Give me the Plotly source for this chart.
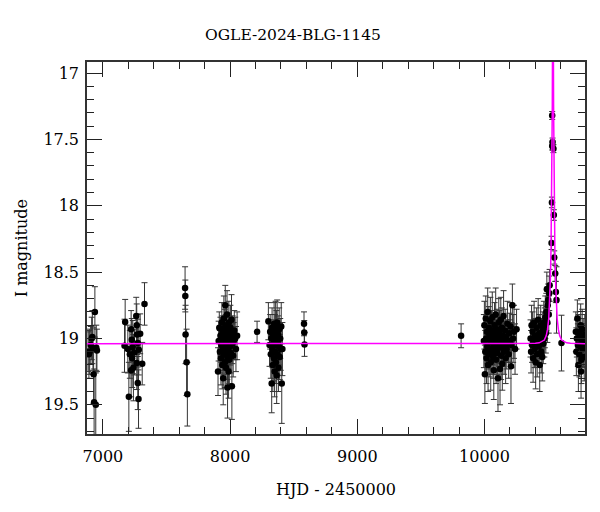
import plotly.graph_objects as go

# ---------------- data ----------------
# Observations: HJD-2450000, I magnitude, error  (grouped by season)
s1_t = [6883, 6890, 6896, 6905, 6912, 6917, 6922, 6927, 6931, 6937, 6944, 6948, 6953]
s1_m = [19.10, 19.12, 19.10, 19.05, 19.00, 18.99, 19.08, 19.27, 19.48, 18.80, 19.50, 19.07, 19.09]
s1_e = [0.15, 0.18, 0.17, 0.14, 0.16, 0.20, 0.16, 0.22, 0.25, 0.19, 0.24, 0.17, 0.16]

s2_t = [7170, 7175, 7196, 7204, 7212, 7222, 7222, 7227, 7230, 7235, 7240, 7248, 7262, 7266,
        7266, 7269, 7274, 7274, 7280, 7282, 7293, 7309, 7327]
s2_m = [19.055, 18.876, 19.08, 19.44, 19.12, 18.93, 19.24, 19.01, 19.15, 19.065, 19.22, 19.105,
        18.83, 18.90, 19.185, 18.97, 19.035, 19.336, 19.457, 19.085, 18.965, 19.19, 18.74]
s2_e = [0.20, 0.17, 0.18, 0.26, 0.18, 0.14, 0.20, 0.16, 0.22, 0.20, 0.25, 0.17,
        0.14, 0.16, 0.20, 0.15, 0.18, 0.20, 0.22, 0.19, 0.15, 0.16, 0.16]

s3_t = [7646, 7648, 7650, 7658, 7664]
s3_m = [18.62, 18.68, 18.97, 19.18, 19.42]
s3_e = [0.16, 0.12, 0.22, 0.25, 0.24]

s4_t = [7905, 7910, 7915, 7920, 7924, 7928, 7931, 7935, 7938, 7940, 7943, 7946, 7948, 7951,
        7953, 7956, 7958, 7960, 7962, 7964, 7966, 7968, 7970, 7972, 7974, 7976, 7978, 7980,
        7982, 7984, 7986, 7988, 7990, 7992, 7994, 7996, 7999, 8002, 8005, 8008, 8011, 8014,
        8017, 8020, 8024, 8028, 8033, 8040, 8046, 8055]
s4_m = [19.25, 19.02, 18.92, 19.10, 18.98, 19.15, 19.05, 18.88, 19.20, 18.95, 19.08, 19.30, 19.00, 18.85,
        19.12, 19.04, 18.92, 19.18, 18.75, 19.06, 18.98, 19.22, 19.02, 18.90, 19.10, 18.82, 19.14, 19.37,
        19.00, 18.95, 19.08, 19.25, 18.88, 19.03, 19.16, 18.96, 19.06, 18.92, 19.11, 19.00, 18.86, 19.36,
        19.04, 18.97, 19.13, 19.02, 18.94, 19.00, 19.08, 18.98]
s4_e = [0.18, 0.15, 0.12, 0.16, 0.14, 0.20, 0.13, 0.15, 0.18, 0.12, 0.16, 0.20, 0.14, 0.17,
        0.15, 0.13, 0.14, 0.19, 0.15, 0.12, 0.16, 0.20, 0.13, 0.15, 0.14, 0.18, 0.17, 0.23,
        0.12, 0.14, 0.15, 0.20, 0.16, 0.13, 0.18, 0.12, 0.14, 0.17, 0.15, 0.13, 0.19, 0.25,
        0.15, 0.14, 0.16, 0.14, 0.15, 0.16, 0.17, 0.18]

s5_t = [8212]
s5_m = [18.95]
s5_e = [0.08]

s6_t = [8301, 8310, 8315, 8320, 8324, 8327, 8330, 8333, 8336, 8339, 8342, 8344, 8346, 8348,
        8350, 8352, 8354, 8356, 8358, 8360, 8362, 8364, 8366, 8368, 8370, 8372, 8374, 8377,
        8380, 8383, 8386, 8390, 8394, 8398, 8402, 8406, 8411]
s6_m = [18.87, 19.05, 18.95, 19.12, 19.00, 19.34, 18.92, 19.08, 19.20, 18.98, 19.04, 19.15, 18.89, 19.02,
        19.25, 18.96, 19.10, 19.00, 18.90, 19.18, 19.05, 18.94, 19.28, 19.01, 18.88, 19.12, 19.03, 18.97,
        19.22, 19.06, 18.93, 19.14, 19.00, 19.08, 18.91, 19.34, 19.08]
s6_e = [0.14, 0.16, 0.13, 0.18, 0.12, 0.22, 0.15, 0.14, 0.20, 0.12, 0.13, 0.17, 0.16, 0.12,
        0.19, 0.14, 0.15, 0.12, 0.18, 0.16, 0.13, 0.15, 0.21, 0.12, 0.17, 0.15, 0.13, 0.14,
        0.18, 0.14, 0.16, 0.17, 0.15, 0.16, 0.18, 0.30, 0.20]

s7_t = [8581, 8583, 8585]
s7_m = [18.89, 18.955, 19.045]
s7_e = [0.09, 0.09, 0.09]

s8_t = [9816]
s8_m = [18.98]
s8_e = [0.09]

s9_t = [9995, 9999, 10003, 10006, 10010, 10013, 10016, 10019, 10022, 10025, 10028, 10031, 10034, 10037,
        10040, 10043, 10046, 10049, 10052, 10055, 10058, 10061, 10064, 10067, 10070, 10073, 10076, 10079,
        10082, 10085, 10088, 10091, 10094, 10097, 10100, 10103, 10106, 10109, 10112, 10115, 10118, 10122,
        10125, 10128, 10131, 10134, 10137, 10140, 10143, 10146, 10150, 10154, 10158, 10162, 10166, 10170,
        10175, 10180, 10185, 10190, 10195, 10200, 10205, 10208, 10212, 10219, 10225, 10232, 10240, 10252]
s9_m = [19.02, 18.90, 19.27, 19.10, 18.85, 19.00, 19.15, 18.95, 19.06, 18.80, 19.20, 19.01, 18.92, 19.12,
        18.98, 19.08, 18.87, 19.18, 19.03, 18.94, 19.10, 18.84, 19.00, 19.14, 18.96, 19.24, 19.05, 18.90,
        19.09, 18.99, 18.82, 19.16, 19.02, 18.93, 19.11, 18.97, 19.30, 19.04, 18.88, 19.07, 18.95, 19.23,
        19.00, 18.86, 19.13, 19.03, 18.92, 19.19, 18.98, 19.06, 18.83, 19.10, 19.01, 18.94, 19.15, 18.99,
        19.08, 18.89, 19.04, 19.12, 18.96, 19.02, 18.91, 19.21, 19.05, 18.75, 19.00, 18.95, 19.08, 18.93]
s9_e = [0.20, 0.18, 0.22, 0.16, 0.17, 0.14, 0.19, 0.15, 0.13, 0.18, 0.20, 0.14, 0.16, 0.17,
        0.13, 0.15, 0.18, 0.21, 0.14, 0.15, 0.17, 0.19, 0.12, 0.16, 0.14, 0.22, 0.15, 0.17,
        0.16, 0.13, 0.20, 0.18, 0.14, 0.15, 0.16, 0.13, 0.25, 0.15, 0.18, 0.14, 0.16, 0.27,
        0.13, 0.17, 0.18, 0.14, 0.15, 0.20, 0.14, 0.15, 0.19, 0.17, 0.14, 0.16, 0.19, 0.13,
        0.15, 0.17, 0.14, 0.18, 0.15, 0.16, 0.18, 0.28, 0.17, 0.16, 0.18, 0.20, 0.19, 0.15]

s10_t = [10362, 10366, 10370, 10374, 10378, 10382, 10386, 10390, 10394, 10398, 10402, 10406, 10410, 10414,
         10418, 10422, 10426, 10430, 10434, 10438, 10442, 10446, 10450, 10454, 10458, 10462, 10466, 10470,
         10474, 10478, 10482, 10486, 10490, 10494, 10497, 10501, 10505, 10509, 10512,
         10527, 10530, 10532, 10532, 10535, 10542, 10545, 10548, 10556, 10561, 10566, 10605]
s10_m = [19.00, 19.10, 18.90, 19.05, 18.95, 19.15, 19.02, 18.88, 19.08, 18.98, 19.18, 19.04, 18.92, 19.12,
         19.00, 18.86, 19.06, 18.96, 19.20, 19.02, 18.90, 19.10, 18.98, 19.14, 18.94, 19.04, 18.88, 19.00,
         18.92, 18.84, 18.96, 18.80, 18.63, 18.88, 18.75, 18.71, 18.82, 18.66, 18.60,
         18.28, 17.975, 17.32, 17.55, 17.52, 17.57, 18.07, 18.39, 18.51, 18.65, 18.71, 19.035]
s10_e = [0.14, 0.16, 0.15, 0.13, 0.15, 0.18, 0.13, 0.16, 0.14, 0.13, 0.20, 0.14, 0.15, 0.17,
         0.13, 0.16, 0.14, 0.14, 0.20, 0.13, 0.15, 0.16, 0.13, 0.18, 0.14, 0.15, 0.16, 0.14,
         0.15, 0.16, 0.15, 0.14, 0.13, 0.15, 0.14, 0.12, 0.14, 0.13, 0.12,
         0.05, 0.04, 0.03, 0.03, 0.03, 0.03, 0.04, 0.05, 0.06, 0.08, 0.25, 0.21]

s11_t = [10718, 10722, 10726, 10730, 10734, 10738, 10742, 10746, 10749, 10752,
         10756, 10759, 10762, 10765, 10768, 10772, 10776, 10780, 10784, 10788]
s11_m = [18.95, 19.10, 19.00, 18.85, 19.05, 19.20, 18.95, 19.12, 18.98, 19.06,
         18.90, 19.25, 19.16, 19.02, 18.93, 19.08, 19.00, 19.05, 19.14, 18.97]
s11_e = [0.15, 0.18, 0.14, 0.14, 0.16, 0.20, 0.13, 0.17, 0.13, 0.15,
         0.16, 0.20, 0.18, 0.13, 0.15, 0.14, 0.15, 0.16, 0.18, 0.15]

# Model light curve (magenta)
model_t = [6875, 10300, 10400, 10430, 10450, 10470, 10485, 10495, 10505, 10512, 10518, 10523,
           10527, 10530, 10533, 10535, 10536, 10537, 10538, 10539, 10540, 10541, 10543, 10546,
           10549, 10553, 10558, 10564, 10571, 10581, 10591, 10606, 10626, 10646, 10676, 10790]
model_m = [19.04, 19.04, 19.037, 19.033, 19.024, 19.012, 18.98, 18.934, 18.848, 18.72, 18.55, 18.32,
           18.04, 17.72, 17.24, 16.70, 16.30, 15.65, 14.80, 15.65, 16.30, 16.70, 17.24, 17.72,
           18.04, 18.32, 18.55, 18.72, 18.848, 18.934, 18.98, 19.012, 19.024, 19.033, 19.037, 19.04]

title_text = "OGLE-2024-BLG-1145"
x_title = "HJD - 2450000"
y_title = "I magnitude"
x_range = [6875, 10790]
y_range = [19.72, 16.917]

# ---------------- figure ----------------
t_all = s1_t + s2_t + s3_t + s4_t + s5_t + s6_t + s7_t + s8_t + s9_t + s10_t + s11_t
m_all = s1_m + s2_m + s3_m + s4_m + s5_m + s6_m + s7_m + s8_m + s9_m + s10_m + s11_m
e_all = s1_e + s2_e + s3_e + s4_e + s5_e + s6_e + s7_e + s8_e + s9_e + s10_e + s11_e

FONT = "DejaVu Serif"
OFF = 8  # page body margin offset in the browser
W, H = 600 - 2 * OFF, 512 - 2 * OFF
ML, MT = 87 - OFF, 62 - OFF
MR = W - (587 - OFF)
MB = H - (434 - OFF)
PW, PH = W - ML - MR, H - MT - MB

fig = go.Figure()
fig.add_trace(go.Scatter(
    x=t_all, y=m_all, mode="markers",
    marker=dict(color="black", size=6.5),
    error_y=dict(type="data", array=e_all, visible=True, color="#333333", thickness=1, width=3),
    showlegend=False, hoverinfo="skip",
))
fig.add_trace(go.Scatter(
    x=model_t, y=model_m, mode="lines",
    line=dict(color="#ff00ff", width=1.5),
    showlegend=False, hoverinfo="skip",
))

axis_common = dict(
    showgrid=False, zeroline=False,
    showline=True, linecolor="#333333", linewidth=1.5, mirror="allticks",
    ticks="inside", ticklen=15, tickwidth=1, tickcolor="#222222",
    tickfont=dict(family=FONT, size=16, color="black"),
)

fig.update_xaxes(range=x_range, dtick=1000, tick0=0, tickformat="d", ticklabelstandoff=7,
                 minor=dict(dtick=200, ticks="inside", ticklen=7, tickwidth=1, tickcolor="#222222"),
                 **axis_common)
fig.update_yaxes(range=y_range, dtick=0.5, tick0=0, ticklabelstandoff=3,
                 minor=dict(dtick=0.1, ticks="inside", ticklen=7, tickwidth=1, tickcolor="#222222"),
                 **axis_common)

fig.update_layout(
    width=W, height=H,
    margin=dict(l=ML, r=MR, t=MT, b=MB),
    plot_bgcolor="white", paper_bgcolor="white",
    title=dict(text=title_text, x=(293 - OFF) / W, xref="container", xanchor="center",
               y=1 - (35 - OFF) / H, yref="container", yanchor="middle",
               font=dict(family=FONT, size=15.5, color="black")),
    annotations=[
        dict(text=x_title, xref="paper", yref="paper", x=0.5, y=(H - MB - (489 - OFF)) / PH,
             xanchor="center", yanchor="middle", showarrow=False,
             font=dict(family=FONT, size=16, color="black")),
        dict(text=y_title, xref="paper", yref="paper", x=((21 - OFF) - ML) / PW, y=0.5,
             xanchor="center", yanchor="middle", showarrow=False, textangle=-90,
             font=dict(family=FONT, size=16, color="black")),
    ],
)

fig.write_html("out.html")
